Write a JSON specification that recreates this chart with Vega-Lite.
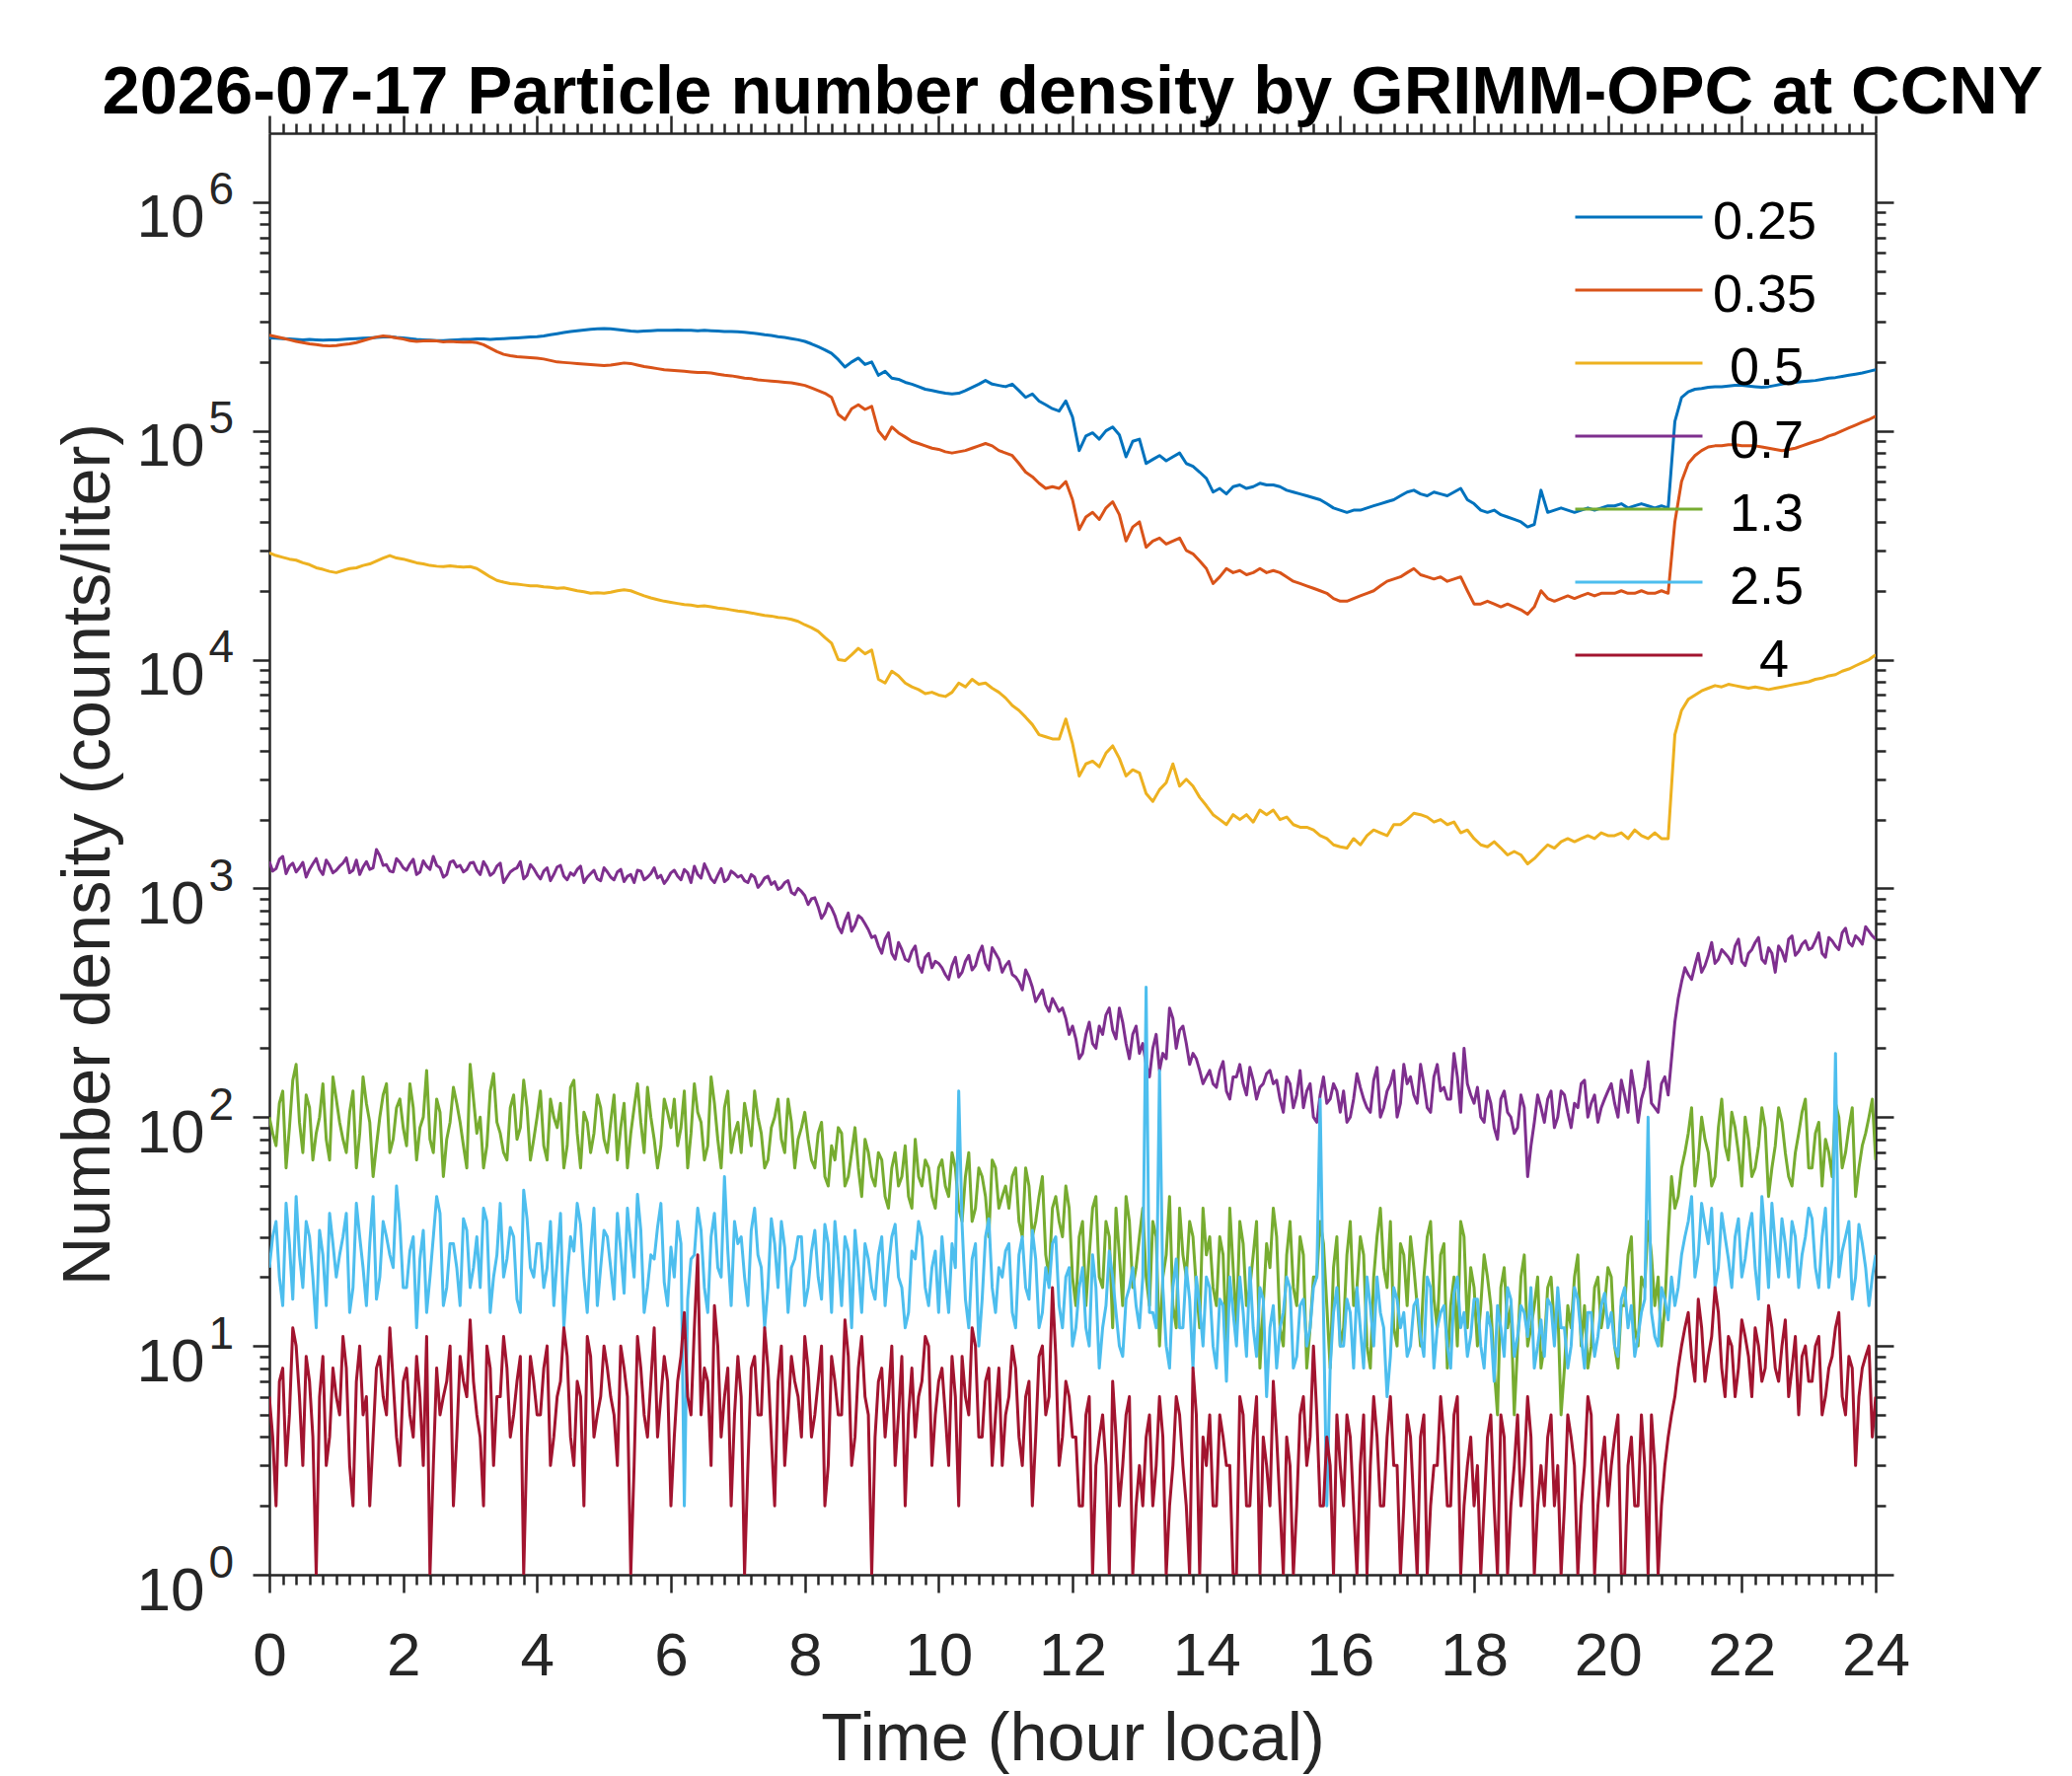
{
"$schema": "https://vega.github.io/schema/vega-lite/v6.json",
"width": 1628, "height": 1461,
"autosize": {"type": "none"},
"padding": {"left": 273, "top": 135, "right": 199, "bottom": 204},
"background": "white",
"title": {"text": "2026-07-17 Particle number density by GRIMM-OPC at CCNY", "font": "Liberation Sans", "fontSize": 68.6, "fontWeight": "bold", "color": "#000000", "anchor": "middle", "frame": "group", "baseline": "alphabetic", "offset": -68},
"config": {"view": {"stroke": null},
 "axis": {"labelFont": "Liberation Sans", "titleFont": "Liberation Sans", "labelColor": "#262626", "titleColor": "#262626", "tickColor": "#262626", "domainColor": "#262626", "tickWidth": 2.5, "domainWidth": 2.5, "grid": false, "labelFlush": false, "labelOverlap": false, "titleFontWeight": "normal"}},
"datasets": {
"smooth": [
{"t":0,"a":255000,"b":262000,"c":29300},{"t":0.1,"a":254000,"b":258000,"c":28500},{"t":0.2,"a":253000,"b":254000,"c":28000},{"t":0.3,"a":252000,"b":250000,"c":27500},{"t":0.4,"a":251000,"b":246000,"c":27200},{"t":0.5,"a":250000,"b":243000,"c":26500},{"t":0.6,"a":251000,"b":240000,"c":26000},{"t":0.7,"a":250000,"b":238000,"c":25200},{"t":0.8,"a":249000,"b":236000,"c":24800},{"t":0.9,"a":250000,"b":235000,"c":24300},
{"t":1,"a":250000,"b":236000,"c":24000},{"t":1.1,"a":251000,"b":238000,"c":24500},{"t":1.2,"a":252000,"b":240000,"c":25000},{"t":1.3,"a":253000,"b":243000,"c":25200},{"t":1.4,"a":254000,"b":248000,"c":25800},{"t":1.5,"a":255000,"b":253000,"c":26200},{"t":1.6,"a":256000,"b":257000,"c":27000},{"t":1.7,"a":257000,"b":260000,"c":27800},{"t":1.8,"a":258000,"b":258000,"c":28500},{"t":1.9,"a":256000,"b":255000,"c":27800},
{"t":2,"a":255000,"b":252000,"c":27500},{"t":2.1,"a":253000,"b":248000,"c":27000},{"t":2.2,"a":251000,"b":246000,"c":26500},{"t":2.3,"a":250000,"b":247000,"c":26200},{"t":2.4,"a":249000,"b":248000,"c":25800},{"t":2.5,"a":248000,"b":247000,"c":25600},{"t":2.6,"a":248000,"b":245000,"c":25500},{"t":2.7,"a":249000,"b":246000,"c":25700},{"t":2.8,"a":250000,"b":245000,"c":25500},{"t":2.9,"a":251000,"b":244000,"c":25400},
{"t":3,"a":251000,"b":245000,"c":25500},{"t":3.1,"a":252000,"b":243000,"c":25000},{"t":3.2,"a":252000,"b":238000,"c":24000},{"t":3.3,"a":251000,"b":230000,"c":23000},{"t":3.4,"a":252000,"b":222000,"c":22200},{"t":3.5,"a":253000,"b":216000,"c":21800},{"t":3.6,"a":254000,"b":213000,"c":21500},{"t":3.7,"a":255000,"b":211000,"c":21400},{"t":3.8,"a":256000,"b":210000,"c":21200},{"t":3.9,"a":257000,"b":209000,"c":21000},
{"t":4,"a":258000,"b":208000,"c":21000},{"t":4.1,"a":260000,"b":206000,"c":20800},{"t":4.2,"a":263000,"b":203000,"c":20700},{"t":4.3,"a":266000,"b":200000,"c":20500},{"t":4.4,"a":269000,"b":199000,"c":20600},{"t":4.5,"a":272000,"b":198000,"c":20300},{"t":4.6,"a":274000,"b":197000,"c":20000},{"t":4.7,"a":276000,"b":196000,"c":19800},{"t":4.8,"a":278000,"b":195000,"c":19500},{"t":4.9,"a":279000,"b":194000,"c":19600},
{"t":5,"a":280000,"b":193000,"c":19500},{"t":5.1,"a":279000,"b":194000,"c":19700},{"t":5.2,"a":277000,"b":196000,"c":20000},{"t":5.3,"a":275000,"b":198000,"c":20200},{"t":5.4,"a":273000,"b":197000,"c":20000},{"t":5.5,"a":272000,"b":194000,"c":19500},{"t":5.6,"a":273000,"b":191000,"c":19000},{"t":5.7,"a":274000,"b":189000,"c":18600},{"t":5.8,"a":275000,"b":187000,"c":18300},{"t":5.9,"a":275000,"b":185000,"c":18000},
{"t":6,"a":275000,"b":184000,"c":17800},{"t":6.1,"a":276000,"b":183000,"c":17600},{"t":6.2,"a":275000,"b":182000,"c":17400},{"t":6.3,"a":275000,"b":181000,"c":17300},{"t":6.4,"a":274000,"b":180000,"c":17100},{"t":6.5,"a":275000,"b":180000,"c":17200},{"t":6.6,"a":274000,"b":179000,"c":17000},{"t":6.7,"a":273000,"b":177000,"c":16800},{"t":6.8,"a":272000,"b":175000,"c":16700},{"t":6.9,"a":272000,"b":174000,"c":16500},
{"t":7,"a":271000,"b":172000,"c":16300},{"t":7.1,"a":270000,"b":170000,"c":16200},{"t":7.2,"a":268000,"b":169000,"c":16000},{"t":7.3,"a":266000,"b":167000,"c":15800},{"t":7.4,"a":263000,"b":166000,"c":15600},{"t":7.5,"a":261000,"b":165000,"c":15500},{"t":7.6,"a":258000,"b":164000,"c":15300},{"t":7.7,"a":256000,"b":163000,"c":15200},{"t":7.8,"a":253000,"b":162000,"c":15000},{"t":7.9,"a":250000,"b":160000,"c":14700},
{"t":8,"a":246000,"b":158000,"c":14200},{"t":8.1,"a":240000,"b":154000,"c":13800},{"t":8.2,"a":233000,"b":150000,"c":13300},{"t":8.3,"a":226000,"b":146000,"c":12500},{"t":8.4,"a":218000,"b":140000,"c":11800},{"t":8.5,"a":205000,"b":118000,"c":10000},{"t":8.6,"a":190000,"b":112000,"c":9900},{"t":8.7,"a":200000,"b":125000,"c":10500},{"t":8.8,"a":208000,"b":130000,"c":11200},{"t":8.9,"a":195000,"b":124000,"c":10600},
{"t":9,"a":200000,"b":128000,"c":11000},{"t":9.1,"a":175000,"b":100000,"c":8200},{"t":9.2,"a":182000,"b":92000,"c":7900},{"t":9.3,"a":170000,"b":104000,"c":8900},{"t":9.4,"a":168000,"b":98000,"c":8500},{"t":9.5,"a":163000,"b":94000,"c":7900},{"t":9.6,"a":160000,"b":90000,"c":7600},{"t":9.7,"a":156000,"b":88000,"c":7400},{"t":9.8,"a":152000,"b":86000,"c":7100},{"t":9.9,"a":150000,"b":84000,"c":7200},
{"t":10,"a":148000,"b":83000,"c":7000},{"t":10.1,"a":146000,"b":81000,"c":6900},{"t":10.2,"a":145000,"b":80000,"c":7200},{"t":10.3,"a":146000,"b":81000,"c":7900},{"t":10.4,"a":150000,"b":82000,"c":7600},{"t":10.5,"a":155000,"b":84000,"c":8200},{"t":10.6,"a":160000,"b":86000,"c":7800},{"t":10.7,"a":166000,"b":88000,"c":7900},{"t":10.8,"a":160000,"b":86000,"c":7500},{"t":10.9,"a":158000,"b":82000,"c":7200},
{"t":11,"a":156000,"b":80000,"c":6800},{"t":11.1,"a":160000,"b":78000,"c":6300},{"t":11.2,"a":150000,"b":72000,"c":6000},{"t":11.3,"a":140000,"b":66000,"c":5600},{"t":11.4,"a":145000,"b":63000,"c":5200},{"t":11.5,"a":135000,"b":59000,"c":4700},{"t":11.6,"a":130000,"b":56000,"c":4600},{"t":11.7,"a":125000,"b":57000,"c":4500},{"t":11.8,"a":122000,"b":56000,"c":4500},{"t":11.9,"a":135000,"b":60000,"c":5500},
{"t":12,"a":115000,"b":50000,"c":4300},{"t":12.1,"a":82000,"b":37000,"c":3100},{"t":12.2,"a":95000,"b":42000,"c":3500},{"t":12.3,"a":98000,"b":44000,"c":3600},{"t":12.4,"a":92000,"b":41000,"c":3400},{"t":12.5,"a":100000,"b":46000,"c":3900},{"t":12.6,"a":104000,"b":49000,"c":4200},{"t":12.7,"a":96000,"b":43000,"c":3700},{"t":12.8,"a":77000,"b":33000,"c":3100},{"t":12.9,"a":90000,"b":38000,"c":3300},
{"t":13,"a":92000,"b":40000,"c":3200},{"t":13.1,"a":72000,"b":31000,"c":2600},{"t":13.2,"a":75000,"b":33000,"c":2400},{"t":13.3,"a":78000,"b":34000,"c":2700},{"t":13.4,"a":74000,"b":32000,"c":2900},{"t":13.5,"a":77000,"b":33000,"c":3500},{"t":13.6,"a":80000,"b":34000,"c":2800},{"t":13.7,"a":72000,"b":30000,"c":3000},{"t":13.8,"a":70000,"b":29000,"c":2800},{"t":13.9,"a":66000,"b":27000,"c":2500},
{"t":14,"a":62000,"b":25000,"c":2300},{"t":14.1,"a":54000,"b":21500,"c":2100},{"t":14.2,"a":56000,"b":23000,"c":2000},{"t":14.3,"a":53000,"b":25000,"c":1900},{"t":14.4,"a":57000,"b":24000,"c":2100},{"t":14.5,"a":58000,"b":24500,"c":2000},{"t":14.6,"a":56000,"b":23500,"c":2100},{"t":14.7,"a":57000,"b":24000,"c":1950},{"t":14.8,"a":59000,"b":25000,"c":2200},{"t":14.9,"a":58000,"b":24000,"c":2100},
{"t":15,"a":58000,"b":24500,"c":2200},{"t":15.1,"a":57000,"b":24000,"c":2000},{"t":15.2,"a":55000,"b":23000,"c":2050},{"t":15.3,"a":54000,"b":22000,"c":1900},{"t":15.4,"a":53000,"b":21500,"c":1850},{"t":15.5,"a":52000,"b":21000,"c":1850},{"t":15.6,"a":51000,"b":20500,"c":1800},{"t":15.7,"a":50000,"b":20000,"c":1700},{"t":15.8,"a":48000,"b":19500,"c":1650},{"t":15.9,"a":46000,"b":18500,"c":1550},
{"t":16,"a":45000,"b":18000,"c":1520},{"t":16.1,"a":44000,"b":18000,"c":1500},{"t":16.2,"a":45000,"b":18500,"c":1650},{"t":16.3,"a":45000,"b":19000,"c":1550},{"t":16.4,"a":46000,"b":19500,"c":1700},{"t":16.5,"a":47000,"b":20000,"c":1800},{"t":16.6,"a":48000,"b":21000,"c":1750},{"t":16.7,"a":49000,"b":22000,"c":1700},{"t":16.8,"a":50000,"b":22500,"c":1900},{"t":16.9,"a":52000,"b":23000,"c":1900},
{"t":17,"a":54000,"b":24000,"c":2000},{"t":17.1,"a":55000,"b":25000,"c":2130},{"t":17.2,"a":53000,"b":23500,"c":2100},{"t":17.3,"a":52000,"b":23000,"c":2050},{"t":17.4,"a":54000,"b":22500,"c":1950},{"t":17.5,"a":53000,"b":23000,"c":2000},{"t":17.6,"a":52000,"b":22000,"c":1900},{"t":17.7,"a":54000,"b":22500,"c":1950},{"t":17.8,"a":56000,"b":23000,"c":1750},{"t":17.9,"a":50000,"b":20000,"c":1800},
{"t":18,"a":48000,"b":17500,"c":1650},{"t":18.1,"a":45000,"b":17500,"c":1550},{"t":18.2,"a":44000,"b":18000,"c":1520},{"t":18.3,"a":45000,"b":17500,"c":1600},{"t":18.4,"a":43000,"b":17000,"c":1500},{"t":18.5,"a":42000,"b":17500,"c":1400},{"t":18.6,"a":41000,"b":17000,"c":1450},{"t":18.7,"a":40000,"b":16500,"c":1400},{"t":18.8,"a":38000,"b":15800,"c":1280},{"t":18.9,"a":39000,"b":17000,"c":1350},
{"t":19,"a":55000,"b":20000,"c":1450},{"t":19.1,"a":44000,"b":18500,"c":1550},{"t":19.2,"a":45000,"b":18000,"c":1500},{"t":19.3,"a":46000,"b":18500,"c":1600},{"t":19.4,"a":45000,"b":19000,"c":1650},{"t":19.5,"a":44000,"b":18500,"c":1600},{"t":19.6,"a":45000,"b":19000,"c":1650},{"t":19.7,"a":46000,"b":19500,"c":1700},{"t":19.8,"a":45000,"b":19000,"c":1650},{"t":19.9,"a":46000,"b":19500,"c":1750},
{"t":20,"a":47000,"b":19500,"c":1700},{"t":20.1,"a":47000,"b":19500,"c":1700},{"t":20.2,"a":48000,"b":20000,"c":1750},{"t":20.3,"a":46000,"b":19500,"c":1650},{"t":20.4,"a":47000,"b":19500,"c":1800},{"t":20.5,"a":48000,"b":20000,"c":1700},{"t":20.6,"a":47000,"b":19500,"c":1650},{"t":20.7,"a":46000,"b":19500,"c":1750},{"t":20.8,"a":47000,"b":20000,"c":1650},{"t":20.9,"a":46000,"b":19500,"c":1650},
{"t":21,"a":110000,"b":40000,"c":4700},{"t":21.1,"a":140000,"b":60000,"c":6000},{"t":21.2,"a":148000,"b":72000,"c":6700},{"t":21.3,"a":152000,"b":78000,"c":7000},{"t":21.4,"a":153000,"b":82000,"c":7300},{"t":21.5,"a":155000,"b":85000,"c":7500},{"t":21.6,"a":156000,"b":86000,"c":7700},{"t":21.7,"a":156000,"b":86000,"c":7600},{"t":21.8,"a":157000,"b":87000,"c":7800},{"t":21.9,"a":158000,"b":87000,"c":7700},
{"t":22,"a":158000,"b":86000,"c":7600},{"t":22.1,"a":157000,"b":86000,"c":7500},{"t":22.2,"a":156000,"b":86000,"c":7600},{"t":22.3,"a":155000,"b":85000,"c":7500},{"t":22.4,"a":156000,"b":84000,"c":7400},{"t":22.5,"a":158000,"b":83000,"c":7500},{"t":22.6,"a":160000,"b":82000,"c":7600},{"t":22.7,"a":162000,"b":83000,"c":7700},{"t":22.8,"a":163000,"b":84000,"c":7800},{"t":22.9,"a":164000,"b":86000,"c":7900},
{"t":23,"a":165000,"b":88000,"c":8000},{"t":23.1,"a":166000,"b":90000,"c":8200},{"t":23.2,"a":168000,"b":92000,"c":8300},{"t":23.3,"a":170000,"b":95000,"c":8500},{"t":23.4,"a":171000,"b":97000,"c":8600},{"t":23.5,"a":173000,"b":100000,"c":8900},{"t":23.6,"a":175000,"b":103000,"c":9100},{"t":23.7,"a":177000,"b":106000,"c":9400},{"t":23.8,"a":179000,"b":109000,"c":9700},{"t":23.9,"a":182000,"b":112000,"c":10000},
{"t":24,"a":185000,"b":116000,"c":10500}
],
"noisy": [
{"t":0,"d":1310,"e":100,"f":22,"g":6},{"t":0.05,"d":1190,"e":85,"f":30,"g":4},{"t":0.1,"d":1220,"e":75,"f":35,"g":2},{"t":0.15,"d":1340,"e":115,"f":20,"g":7},{"t":0.2,"d":1380,"e":130,"f":15,"g":8},{"t":0.25,"d":1160,"e":60,"f":42,"g":3},{"t":0.3,"d":1250,"e":90,"f":28,"g":5},{"t":0.35,"d":1290,"e":145,"f":16,"g":12},{"t":0.4,"d":1180,"e":170,"f":45,"g":10},{"t":0.45,"d":1230,"e":95,"f":25,"g":6},
{"t":0.5,"d":1300,"e":70,"f":18,"g":3},{"t":0.55,"d":1120,"e":125,"f":35,"g":9},{"t":0.6,"d":1210,"e":110,"f":30,"g":7},{"t":0.65,"d":1280,"e":65,"f":20,"g":4},{"t":0.7,"d":1350,"e":85,"f":12,"g":1},{"t":0.75,"d":1210,"e":100,"f":32,"g":6},{"t":0.8,"d":1150,"e":140,"f":25,"g":9},{"t":0.85,"d":1330,"e":80,"f":15,"g":3},{"t":0.9,"d":1260,"e":65,"f":38,"g":4},{"t":0.95,"d":1170,"e":150,"f":28,"g":8},
{"t":1,"d":1200,"e":120,"f":20,"g":6},{"t":1.05,"d":1250,"e":95,"f":25,"g":5},{"t":1.1,"d":1290,"e":80,"f":30,"g":11},{"t":1.15,"d":1360,"e":70,"f":38,"g":8},{"t":1.2,"d":1170,"e":105,"f":14,"g":3},{"t":1.25,"d":1200,"e":130,"f":18,"g":2},{"t":1.3,"d":1330,"e":60,"f":42,"g":7},{"t":1.35,"d":1150,"e":85,"f":30,"g":10},{"t":1.4,"d":1240,"e":150,"f":22,"g":5},{"t":1.45,"d":1310,"e":115,"f":15,"g":6},
{"t":1.5,"d":1210,"e":95,"f":28,"g":2},{"t":1.55,"d":1230,"e":55,"f":45,"g":4},{"t":1.6,"d":1480,"e":75,"f":16,"g":8},{"t":1.65,"d":1390,"e":100,"f":20,"g":9},{"t":1.7,"d":1260,"e":125,"f":35,"g":6},{"t":1.75,"d":1270,"e":140,"f":30,"g":5},{"t":1.8,"d":1190,"e":70,"f":25,"g":12},{"t":1.85,"d":1180,"e":80,"f":22,"g":7},{"t":1.9,"d":1350,"e":110,"f":50,"g":4},{"t":1.95,"d":1300,"e":120,"f":34,"g":3},
{"t":2,"d":1230,"e":90,"f":18,"g":7},{"t":2.05,"d":1200,"e":75,"f":18,"g":8},{"t":2.1,"d":1280,"e":140,"f":26,"g":5},{"t":2.15,"d":1340,"e":110,"f":30,"g":4},{"t":2.2,"d":1150,"e":65,"f":12,"g":9},{"t":2.25,"d":1180,"e":90,"f":24,"g":6},{"t":2.3,"d":1320,"e":100,"f":32,"g":3},{"t":2.35,"d":1250,"e":160,"f":14,"g":11},{"t":2.4,"d":1210,"e":80,"f":20,"g":1},{"t":2.45,"d":1380,"e":70,"f":30,"g":3},
{"t":2.5,"d":1260,"e":120,"f":45,"g":8},{"t":2.55,"d":1230,"e":105,"f":38,"g":5},{"t":2.6,"d":1120,"e":55,"f":15,"g":6},{"t":2.65,"d":1150,"e":80,"f":18,"g":7},{"t":2.7,"d":1300,"e":95,"f":28,"g":10},{"t":2.75,"d":1320,"e":135,"f":28,"g":2},{"t":2.8,"d":1240,"e":115,"f":22,"g":4},{"t":2.85,"d":1260,"e":95,"f":15,"g":9},{"t":2.9,"d":1180,"e":75,"f":36,"g":7},{"t":2.95,"d":1210,"e":60,"f":32,"g":6},
{"t":3,"d":1290,"e":170,"f":18,"g":13},{"t":3.05,"d":1300,"e":120,"f":22,"g":7},{"t":3.1,"d":1200,"e":85,"f":30,"g":5},{"t":3.15,"d":1150,"e":100,"f":18,"g":4},{"t":3.2,"d":1310,"e":60,"f":40,"g":2},{"t":3.25,"d":1240,"e":75,"f":35,"g":10},{"t":3.3,"d":1140,"e":130,"f":14,"g":8},{"t":3.35,"d":1170,"e":155,"f":20,"g":3},{"t":3.4,"d":1250,"e":95,"f":25,"g":6},{"t":3.45,"d":1290,"e":85,"f":42,"g":6},
{"t":3.5,"d":1060,"e":70,"f":20,"g":11},{"t":3.55,"d":1120,"e":65,"f":24,"g":8},{"t":3.6,"d":1180,"e":110,"f":33,"g":4},{"t":3.65,"d":1210,"e":125,"f":30,"g":5},{"t":3.7,"d":1230,"e":80,"f":16,"g":7},{"t":3.75,"d":1310,"e":90,"f":14,"g":9},{"t":3.8,"d":1100,"e":145,"f":48,"g":1},{"t":3.85,"d":1140,"e":110,"f":36,"g":4},{"t":3.9,"d":1270,"e":65,"f":22,"g":9},{"t":3.95,"d":1220,"e":80,"f":20,"g":7},
{"t":4,"d":1150,"e":100,"f":28,"g":5},{"t":4.05,"d":1100,"e":130,"f":28,"g":5},{"t":4.1,"d":1190,"e":75,"f":18,"g":8},{"t":4.15,"d":1230,"e":65,"f":22,"g":10},{"t":4.2,"d":1080,"e":120,"f":35,"g":3},{"t":4.25,"d":1150,"e":100,"f":15,"g":4},{"t":4.3,"d":1240,"e":90,"f":24,"g":6},{"t":4.35,"d":1260,"e":115,"f":38,"g":7},{"t":4.4,"d":1130,"e":60,"f":12,"g":12},{"t":4.45,"d":1090,"e":75,"f":20,"g":9},
{"t":4.5,"d":1170,"e":135,"f":30,"g":4},{"t":4.55,"d":1140,"e":145,"f":26,"g":3},{"t":4.6,"d":1210,"e":85,"f":42,"g":7},{"t":4.65,"d":1250,"e":60,"f":34,"g":6},{"t":4.7,"d":1060,"e":105,"f":20,"g":2},{"t":4.75,"d":1120,"e":95,"f":14,"g":11},{"t":4.8,"d":1160,"e":70,"f":26,"g":9},{"t":4.85,"d":1200,"e":85,"f":40,"g":4},{"t":4.9,"d":1100,"e":125,"f":15,"g":5},{"t":4.95,"d":1080,"e":110,"f":22,"g":6},
{"t":5,"d":1230,"e":80,"f":32,"g":10},{"t":5.05,"d":1180,"e":70,"f":30,"g":8},{"t":5.1,"d":1120,"e":95,"f":22,"g":6},{"t":5.15,"d":1090,"e":125,"f":16,"g":5},{"t":5.2,"d":1180,"e":65,"f":38,"g":3},{"t":5.25,"d":1210,"e":90,"f":26,"g":10},{"t":5.3,"d":1070,"e":115,"f":17,"g":8},{"t":5.35,"d":1130,"e":60,"f":40,"g":6},{"t":5.4,"d":1150,"e":85,"f":28,"g":1},{"t":5.45,"d":1060,"e":110,"f":20,"g":3},
{"t":5.5,"d":1200,"e":140,"f":46,"g":11},{"t":5.55,"d":1190,"e":95,"f":32,"g":8},{"t":5.6,"d":1090,"e":70,"f":14,"g":5},{"t":5.65,"d":1120,"e":135,"f":18,"g":4},{"t":5.7,"d":1160,"e":100,"f":25,"g":7},{"t":5.75,"d":1230,"e":80,"f":24,"g":12},{"t":5.8,"d":1110,"e":60,"f":33,"g":4},{"t":5.85,"d":1140,"e":75,"f":42,"g":6},{"t":5.9,"d":1050,"e":120,"f":19,"g":9},{"t":5.95,"d":1100,"e":105,"f":15,"g":7},
{"t":6,"d":1170,"e":90,"f":27,"g":2},{"t":6.05,"d":1200,"e":120,"f":20,"g":4},{"t":6.1,"d":1130,"e":75,"f":35,"g":7},{"t":6.15,"d":1090,"e":90,"f":28,"g":9},{"t":6.2,"d":1210,"e":130,"f":2,"g":14},{"t":6.25,"d":1170,"e":60,"f":16,"g":6},{"t":6.3,"d":1060,"e":85,"f":24,"g":5},{"t":6.35,"d":1250,"e":140,"f":25,"g":12},{"t":6.4,"d":1150,"e":105,"f":40,"g":25},{"t":6.45,"d":1110,"e":95,"f":32,"g":5},
{"t":6.5,"d":1280,"e":65,"f":18,"g":8},{"t":6.55,"d":1190,"e":75,"f":14,"g":7},{"t":6.6,"d":1100,"e":150,"f":30,"g":3},{"t":6.65,"d":1060,"e":115,"f":38,"g":15},{"t":6.7,"d":1140,"e":80,"f":22,"g":10},{"t":6.75,"d":1220,"e":60,"f":20,"g":4},{"t":6.8,"d":1070,"e":110,"f":55,"g":6},{"t":6.85,"d":1100,"e":130,"f":26,"g":8},{"t":6.9,"d":1190,"e":70,"f":15,"g":2},{"t":6.95,"d":1160,"e":85,"f":35,"g":5},
{"t":7,"d":1120,"e":95,"f":28,"g":9},{"t":7.05,"d":1140,"e":70,"f":30,"g":6},{"t":7.1,"d":1080,"e":115,"f":20,"g":1},{"t":7.15,"d":1060,"e":95,"f":15,"g":3},{"t":7.2,"d":1150,"e":75,"f":32,"g":8},{"t":7.25,"d":1120,"e":130,"f":40,"g":9},{"t":7.3,"d":1010,"e":100,"f":25,"g":5},{"t":7.35,"d":1050,"e":85,"f":22,"g":5},{"t":7.4,"d":1110,"e":60,"f":12,"g":12},{"t":7.45,"d":1130,"e":65,"f":18,"g":8},
{"t":7.5,"d":1040,"e":90,"f":36,"g":4},{"t":7.55,"d":1070,"e":100,"f":28,"g":2},{"t":7.6,"d":990,"e":120,"f":18,"g":7},{"t":7.65,"d":1010,"e":80,"f":35,"g":10},{"t":7.7,"d":1060,"e":70,"f":27,"g":3},{"t":7.75,"d":1080,"e":120,"f":14,"g":5},{"t":7.8,"d":960,"e":95,"f":22,"g":9},{"t":7.85,"d":940,"e":60,"f":24,"g":7},{"t":7.9,"d":1000,"e":80,"f":30,"g":6},{"t":7.95,"d":970,"e":90,"f":30,"g":4},
{"t":8,"d":930,"e":105,"f":15,"g":11},{"t":8.05,"d":850,"e":80,"f":18,"g":8},{"t":8.1,"d":900,"e":65,"f":26,"g":4},{"t":8.15,"d":910,"e":60,"f":32,"g":5},{"t":8.2,"d":830,"e":85,"f":20,"g":7},{"t":8.25,"d":740,"e":95,"f":16,"g":10},{"t":8.3,"d":780,"e":55,"f":34,"g":2},{"t":8.35,"d":860,"e":50,"f":28,"g":3},{"t":8.4,"d":820,"e":75,"f":14,"g":9},{"t":8.45,"d":760,"e":65,"f":35,"g":7},
{"t":8.5,"d":680,"e":90,"f":24,"g":5},{"t":8.55,"d":640,"e":85,"f":15,"g":5},{"t":8.6,"d":720,"e":50,"f":30,"g":13},{"t":8.65,"d":780,"e":55,"f":26,"g":9},{"t":8.7,"d":650,"e":70,"f":12,"g":3},{"t":8.75,"d":690,"e":90,"f":32,"g":4},{"t":8.8,"d":760,"e":60,"f":22,"g":8},{"t":8.85,"d":740,"e":45,"f":14,"g":11},{"t":8.9,"d":700,"e":80,"f":28,"g":6},{"t":8.95,"d":660,"e":70,"f":24,"g":5},
{"t":9,"d":610,"e":55,"f":18,"g":1},{"t":9.05,"d":620,"e":50,"f":16,"g":4},{"t":9.1,"d":560,"e":70,"f":25,"g":7},{"t":9.15,"d":520,"e":65,"f":30,"g":8},{"t":9.2,"d":600,"e":45,"f":15,"g":4},{"t":9.25,"d":640,"e":40,"f":22,"g":6},{"t":9.3,"d":520,"e":60,"f":30,"g":10},{"t":9.35,"d":490,"e":70,"f":34,"g":3},{"t":9.4,"d":580,"e":50,"f":20,"g":5},{"t":9.45,"d":540,"e":55,"f":18,"g":9},
{"t":9.5,"d":490,"e":75,"f":12,"g":2},{"t":9.55,"d":480,"e":45,"f":14,"g":5},{"t":9.6,"d":530,"e":40,"f":26,"g":8},{"t":9.65,"d":560,"e":80,"f":24,"g":4},{"t":9.7,"d":460,"e":55,"f":35,"g":6},{"t":9.75,"d":430,"e":50,"f":30,"g":7},{"t":9.8,"d":500,"e":65,"f":18,"g":11},{"t":9.85,"d":520,"e":60,"f":15,"g":10},{"t":9.9,"d":450,"e":45,"f":22,"g":3},{"t":9.95,"d":480,"e":40,"f":26,"g":5},
{"t":10,"d":470,"e":60,"f":14,"g":7},{"t":10.05,"d":450,"e":65,"f":30,"g":8},{"t":10.1,"d":420,"e":50,"f":20,"g":5},{"t":10.15,"d":400,"e":45,"f":14,"g":3},{"t":10.2,"d":460,"e":70,"f":28,"g":9},{"t":10.25,"d":500,"e":60,"f":22,"g":6},{"t":10.3,"d":410,"e":40,"f":130,"g":2},{"t":10.35,"d":430,"e":35,"f":34,"g":9},{"t":10.4,"d":480,"e":55,"f":16,"g":6},{"t":10.45,"d":510,"e":70,"f":12,"g":5},
{"t":10.5,"d":440,"e":35,"f":24,"g":12},{"t":10.55,"d":460,"e":40,"f":28,"g":10},{"t":10.6,"d":520,"e":60,"f":10,"g":4},{"t":10.65,"d":560,"e":55,"f":16,"g":4},{"t":10.7,"d":470,"e":45,"f":30,"g":7},{"t":10.75,"d":440,"e":30,"f":36,"g":8},{"t":10.8,"d":550,"e":65,"f":18,"g":3},{"t":10.85,"d":520,"e":60,"f":14,"g":5},{"t":10.9,"d":490,"e":40,"f":22,"g":8},{"t":10.95,"d":430,"e":45,"f":20,"g":3},
{"t":11,"d":460,"e":50,"f":26,"g":5},{"t":11.05,"d":480,"e":40,"f":28,"g":6},{"t":11.1,"d":420,"e":55,"f":14,"g":10},{"t":11.15,"d":410,"e":60,"f":12,"g":8},{"t":11.2,"d":390,"e":35,"f":25,"g":4},{"t":11.25,"d":360,"e":30,"f":30,"g":3},{"t":11.3,"d":440,"e":60,"f":18,"g":6},{"t":11.35,"d":410,"e":50,"f":16,"g":7},{"t":11.4,"d":370,"e":30,"f":32,"g":2},{"t":11.45,"d":320,"e":35,"f":24,"g":4},
{"t":11.5,"d":340,"e":45,"f":12,"g":9},{"t":11.55,"d":360,"e":55,"f":14,"g":10},{"t":11.6,"d":310,"e":25,"f":22,"g":5},{"t":11.65,"d":290,"e":20,"f":18,"g":6},{"t":11.7,"d":330,"e":40,"f":28,"g":18},{"t":11.75,"d":310,"e":45,"f":30,"g":9},{"t":11.8,"d":290,"e":35,"f":15,"g":3},{"t":11.85,"d":300,"e":30,"f":12,"g":4},{"t":11.9,"d":270,"e":50,"f":20,"g":7},{"t":11.95,"d":230,"e":40,"f":22,"g":6},
{"t":12,"d":250,"e":20,"f":10,"g":4},{"t":12.05,"d":220,"e":15,"f":12,"g":4},{"t":12.1,"d":180,"e":30,"f":18,"g":2},{"t":12.15,"d":190,"e":35,"f":22,"g":2},{"t":12.2,"d":230,"e":15,"f":12,"g":5},{"t":12.25,"d":260,"e":25,"f":10,"g":6},{"t":12.3,"d":210,"e":40,"f":25,"g":1},{"t":12.35,"d":200,"e":45,"f":18,"g":3},{"t":12.4,"d":250,"e":20,"f":8,"g":4},{"t":12.45,"d":230,"e":18,"f":12,"g":5},
{"t":12.5,"d":280,"e":35,"f":15,"g":3},{"t":12.55,"d":300,"e":30,"f":26,"g":1},{"t":12.6,"d":240,"e":12,"f":20,"g":7},{"t":12.65,"d":220,"e":40,"f":14,"g":4},{"t":12.7,"d":300,"e":25,"f":10,"g":2},{"t":12.75,"d":260,"e":15,"f":9,"g":3},{"t":12.8,"d":210,"e":45,"f":16,"g":5},{"t":12.85,"d":180,"e":35,"f":18,"g":6},{"t":12.9,"d":230,"e":18,"f":22,"g":1},{"t":12.95,"d":250,"e":22,"f":15,"g":2},
{"t":13,"d":190,"e":30,"f":12,"g":3},{"t":13.05,"d":210,"e":40,"f":20,"g":2},{"t":13.1,"d":170,"e":20,"f":370,"g":4},{"t":13.15,"d":150,"e":15,"f":14,"g":5},{"t":13.2,"d":200,"e":35,"f":14,"g":2},{"t":13.25,"d":230,"e":30,"f":12,"g":3},{"t":13.3,"d":160,"e":10,"f":160,"g":6},{"t":13.35,"d":190,"e":20,"f":18,"g":4},{"t":13.4,"d":180,"e":25,"f":10,"g":1},{"t":13.45,"d":300,"e":45,"f":8,"g":2},
{"t":13.5,"d":270,"e":15,"f":18,"g":3},{"t":13.55,"d":200,"e":12,"f":24,"g":6},{"t":13.6,"d":240,"e":40,"f":12,"g":5},{"t":13.65,"d":250,"e":25,"f":12,"g":3},{"t":13.7,"d":210,"e":20,"f":22,"g":2},{"t":13.75,"d":170,"e":35,"f":16,"g":1},{"t":13.8,"d":190,"e":30,"f":8,"g":8},{"t":13.85,"d":180,"e":18,"f":20,"g":5},{"t":13.9,"d":160,"e":12,"f":15,"g":1},{"t":13.95,"d":140,"e":40,"f":10,"g":4},
{"t":14,"d":150,"e":25,"f":20,"g":3},{"t":14.05,"d":160,"e":30,"f":18,"g":5},{"t":14.1,"d":140,"e":18,"f":10,"g":2},{"t":14.15,"d":135,"e":15,"f":8,"g":2},{"t":14.2,"d":160,"e":30,"f":16,"g":5},{"t":14.25,"d":175,"e":25,"f":15,"g":4},{"t":14.3,"d":130,"e":10,"f":7,"g":3},{"t":14.35,"d":120,"e":40,"f":20,"g":3},{"t":14.4,"d":150,"e":22,"f":14,"g":1},{"t":14.45,"d":150,"e":12,"f":10,"g":1},
{"t":14.5,"d":170,"e":35,"f":20,"g":6},{"t":14.55,"d":140,"e":28,"f":14,"g":5},{"t":14.6,"d":125,"e":15,"f":9,"g":2},{"t":14.65,"d":165,"e":18,"f":22,"g":2},{"t":14.7,"d":145,"e":25,"f":12,"g":4},{"t":14.75,"d":120,"e":35,"f":9,"g":6},{"t":14.8,"d":135,"e":8,"f":18,"g":1},{"t":14.85,"d":140,"e":15,"f":16,"g":4},{"t":14.9,"d":155,"e":28,"f":6,"g":3},{"t":14.95,"d":160,"e":22,"f":12,"g":2},
{"t":15,"d":140,"e":40,"f":15,"g":7},{"t":15.05,"d":145,"e":30,"f":8,"g":4},{"t":15.1,"d":120,"e":12,"f":12,"g":2},{"t":15.15,"d":105,"e":10,"f":14,"g":1},{"t":15.2,"d":150,"e":25,"f":20,"g":4},{"t":15.25,"d":140,"e":35,"f":18,"g":3},{"t":15.3,"d":110,"e":18,"f":8,"g":1},{"t":15.35,"d":125,"e":15,"f":9,"g":2},{"t":15.4,"d":160,"e":30,"f":15,"g":5},{"t":15.45,"d":110,"e":25,"f":16,"g":6},
{"t":15.5,"d":130,"e":8,"f":10,"g":3},{"t":15.55,"d":140,"e":12,"f":12,"g":4},{"t":15.6,"d":100,"e":20,"f":18,"g":10},{"t":15.65,"d":95,"e":20,"f":20,"g":5},{"t":15.7,"d":125,"e":35,"f":120,"g":2},{"t":15.75,"d":150,"e":28,"f":14,"g":2},{"t":15.8,"d":115,"e":15,"f":2,"g":4},{"t":15.85,"d":120,"e":8,"f":8,"g":3},{"t":15.9,"d":140,"e":22,"f":14,"g":1},{"t":15.95,"d":130,"e":30,"f":18,"g":5},
{"t":16,"d":105,"e":10,"f":10,"g":3},{"t":16.05,"d":130,"e":12,"f":10,"g":2},{"t":16.1,"d":95,"e":25,"f":16,"g":5},{"t":16.15,"d":100,"e":35,"f":14,"g":4},{"t":16.2,"d":120,"e":15,"f":8,"g":2},{"t":16.25,"d":155,"e":18,"f":18,"g":1},{"t":16.3,"d":135,"e":30,"f":12,"g":3},{"t":16.35,"d":120,"e":25,"f":8,"g":5},{"t":16.4,"d":110,"e":10,"f":20,"g":1},{"t":16.45,"d":105,"e":8,"f":15,"g":3},
{"t":16.5,"d":145,"e":20,"f":10,"g":6},{"t":16.55,"d":165,"e":30,"f":20,"g":4},{"t":16.6,"d":100,"e":40,"f":14,"g":2},{"t":16.65,"d":110,"e":22,"f":12,"g":2},{"t":16.7,"d":130,"e":18,"f":6,"g":4},{"t":16.75,"d":140,"e":35,"f":9,"g":6},{"t":16.8,"d":160,"e":12,"f":18,"g":3},{"t":16.85,"d":100,"e":10,"f":16,"g":3},{"t":16.9,"d":115,"e":28,"f":12,"g":1},{"t":16.95,"d":170,"e":25,"f":14,"g":2},
{"t":17,"d":140,"e":15,"f":9,"g":5},{"t":17.05,"d":150,"e":30,"f":10,"g":4},{"t":17.1,"d":125,"e":22,"f":15,"g":2},{"t":17.15,"d":115,"e":15,"f":16,"g":1},{"t":17.2,"d":170,"e":10,"f":11,"g":4},{"t":17.25,"d":140,"e":20,"f":9,"g":5},{"t":17.3,"d":110,"e":30,"f":20,"g":1},{"t":17.35,"d":105,"e":35,"f":18,"g":2},{"t":17.4,"d":150,"e":16,"f":8,"g":3},{"t":17.45,"d":170,"e":12,"f":12,"g":3},
{"t":17.5,"d":130,"e":25,"f":14,"g":6},{"t":17.55,"d":135,"e":28,"f":15,"g":4},{"t":17.6,"d":120,"e":8,"f":10,"g":2},{"t":17.65,"d":120,"e":15,"f":8,"g":2},{"t":17.7,"d":190,"e":20,"f":17,"g":5},{"t":17.75,"d":150,"e":10,"f":20,"g":6},{"t":17.8,"d":105,"e":35,"f":12,"g":1},{"t":17.85,"d":200,"e":30,"f":14,"g":2},{"t":17.9,"d":140,"e":12,"f":9,"g":3},{"t":17.95,"d":125,"e":22,"f":11,"g":4},
{"t":18,"d":115,"e":18,"f":16,"g":2},{"t":18.05,"d":135,"e":10,"f":16,"g":3},{"t":18.1,"d":100,"e":15,"f":10,"g":1},{"t":18.15,"d":95,"e":25,"f":8,"g":2},{"t":18.2,"d":130,"e":20,"f":14,"g":4},{"t":18.25,"d":115,"e":15,"f":12,"g":5},{"t":18.3,"d":90,"e":8,"f":7,"g":2},{"t":18.35,"d":80,"e":5,"f":15,"g":1},{"t":18.4,"d":120,"e":18,"f":12,"g":5},{"t":18.45,"d":130,"e":22,"f":9,"g":4},
{"t":18.5,"d":105,"e":12,"f":18,"g":1},{"t":18.55,"d":100,"e":15,"f":16,"g":2},{"t":18.6,"d":85,"e":5,"f":9,"g":3},{"t":18.65,"d":90,"e":10,"f":11,"g":5},{"t":18.7,"d":125,"e":20,"f":15,"g":2},{"t":18.75,"d":110,"e":25,"f":14,"g":3},{"t":18.8,"d":55,"e":10,"f":11,"g":6},{"t":18.85,"d":75,"e":12,"f":18,"g":4},{"t":18.9,"d":95,"e":15,"f":8,"g":1},{"t":18.95,"d":125,"e":20,"f":10,"g":2},
{"t":19,"d":110,"e":8,"f":13,"g":3},{"t":19.05,"d":95,"e":10,"f":9,"g":2},{"t":19.1,"d":120,"e":18,"f":16,"g":4},{"t":19.15,"d":130,"e":20,"f":15,"g":5},{"t":19.2,"d":90,"e":12,"f":10,"g":2},{"t":19.25,"d":100,"e":15,"f":18,"g":3},{"t":19.3,"d":130,"e":5,"f":12,"g":1},{"t":19.35,"d":125,"e":8,"f":12,"g":2},{"t":19.4,"d":105,"e":15,"f":8,"g":5},{"t":19.45,"d":90,"e":12,"f":10,"g":4},
{"t":19.5,"d":115,"e":20,"f":18,"g":3},{"t":19.55,"d":110,"e":25,"f":16,"g":1},{"t":19.6,"d":140,"e":10,"f":11,"g":2},{"t":19.65,"d":145,"e":15,"f":8,"g":3},{"t":19.7,"d":100,"e":8,"f":14,"g":6},{"t":19.75,"d":115,"e":10,"f":14,"g":5},{"t":19.8,"d":125,"e":18,"f":9,"g":1},{"t":19.85,"d":95,"e":20,"f":11,"g":2},{"t":19.9,"d":110,"e":12,"f":15,"g":3},{"t":19.95,"d":120,"e":15,"f":17,"g":4},
{"t":20,"d":130,"e":22,"f":12,"g":2},{"t":20.05,"d":140,"e":20,"f":14,"g":3},{"t":20.1,"d":115,"e":10,"f":10,"g":4},{"t":20.15,"d":100,"e":8,"f":9,"g":5},{"t":20.2,"d":145,"e":15,"f":16,"g":1},{"t":20.25,"d":125,"e":15,"f":18,"g":1},{"t":20.3,"d":105,"e":25,"f":12,"g":3},{"t":20.35,"d":160,"e":30,"f":15,"g":4},{"t":20.4,"d":130,"e":12,"f":9,"g":2},{"t":20.45,"d":95,"e":10,"f":11,"g":2},
{"t":20.5,"d":120,"e":20,"f":14,"g":5},{"t":20.55,"d":135,"e":18,"f":16,"g":3},{"t":20.6,"d":175,"e":35,"f":100,"g":1},{"t":20.65,"d":115,"e":25,"f":14,"g":5},{"t":20.7,"d":110,"e":15,"f":11,"g":3},{"t":20.75,"d":105,"e":20,"f":10,"g":1},{"t":20.8,"d":140,"e":10,"f":18,"g":2},{"t":20.85,"d":150,"e":15,"f":16,"g":3},{"t":20.9,"d":125,"e":30,"f":13,"g":4},{"t":20.95,"d":180,"e":55,"f":20,"g":5},
{"t":21,"d":260,"e":40,"f":15,"g":6},{"t":21.05,"d":330,"e":45,"f":18,"g":8},{"t":21.1,"d":390,"e":60,"f":25,"g":10},{"t":21.15,"d":450,"e":70,"f":30,"g":12},{"t":21.2,"d":420,"e":85,"f":35,"g":14},{"t":21.25,"d":400,"e":110,"f":45,"g":9},{"t":21.3,"d":460,"e":50,"f":20,"g":7},{"t":21.35,"d":520,"e":65,"f":25,"g":16},{"t":21.4,"d":430,"e":100,"f":42,"g":12},{"t":21.45,"d":460,"e":80,"f":34,"g":7},
{"t":21.5,"d":510,"e":70,"f":28,"g":9},{"t":21.55,"d":580,"e":50,"f":40,"g":11},{"t":21.6,"d":470,"e":55,"f":18,"g":18},{"t":21.65,"d":490,"e":90,"f":22,"g":14},{"t":21.7,"d":540,"e":120,"f":38,"g":8},{"t":21.75,"d":520,"e":75,"f":30,"g":6},{"t":21.8,"d":500,"e":65,"f":24,"g":11},{"t":21.85,"d":470,"e":105,"f":18,"g":10},{"t":21.9,"d":560,"e":90,"f":30,"g":6},{"t":21.95,"d":600,"e":70,"f":36,"g":8},
{"t":22,"d":480,"e":50,"f":20,"g":13},{"t":22.05,"d":460,"e":100,"f":24,"g":11},{"t":22.1,"d":520,"e":80,"f":32,"g":9},{"t":22.15,"d":540,"e":55,"f":38,"g":6},{"t":22.2,"d":580,"e":60,"f":22,"g":12},{"t":22.25,"d":610,"e":75,"f":16,"g":10},{"t":22.3,"d":490,"e":110,"f":45,"g":7},{"t":22.35,"d":470,"e":90,"f":30,"g":8},{"t":22.4,"d":550,"e":45,"f":18,"g":15},{"t":22.45,"d":520,"e":60,"f":42,"g":12},
{"t":22.5,"d":430,"e":75,"f":28,"g":8},{"t":22.55,"d":560,"e":110,"f":20,"g":7},{"t":22.6,"d":530,"e":95,"f":36,"g":10},{"t":22.65,"d":480,"e":70,"f":28,"g":13},{"t":22.7,"d":600,"e":55,"f":20,"g":6},{"t":22.75,"d":620,"e":50,"f":35,"g":8},{"t":22.8,"d":510,"e":70,"f":30,"g":11},{"t":22.85,"d":530,"e":85,"f":18,"g":5},{"t":22.9,"d":570,"e":105,"f":25,"g":9},{"t":22.95,"d":590,"e":120,"f":30,"g":10},
{"t":23,"d":540,"e":60,"f":40,"g":7},{"t":23.05,"d":550,"e":60,"f":36,"g":7},{"t":23.1,"d":590,"e":85,"f":22,"g":10},{"t":23.15,"d":640,"e":95,"f":18,"g":11},{"t":23.2,"d":520,"e":50,"f":30,"g":5},{"t":23.25,"d":500,"e":80,"f":40,"g":6},{"t":23.3,"d":610,"e":70,"f":18,"g":8},{"t":23.35,"d":590,"e":55,"f":24,"g":9},{"t":23.4,"d":560,"e":115,"f":190,"g":12},{"t":23.45,"d":540,"e":100,"f":20,"g":14},
{"t":23.5,"d":640,"e":60,"f":26,"g":6},{"t":23.55,"d":670,"e":70,"f":30,"g":5},{"t":23.6,"d":580,"e":90,"f":35,"g":9},{"t":23.65,"d":560,"e":110,"f":16,"g":8},{"t":23.7,"d":620,"e":45,"f":20,"g":3},{"t":23.75,"d":600,"e":60,"f":34,"g":6},{"t":23.8,"d":570,"e":75,"f":28,"g":8},{"t":23.85,"d":680,"e":85,"f":22,"g":9},{"t":23.9,"d":650,"e":100,"f":15,"g":10},{"t":23.95,"d":620,"e":120,"f":20,"g":4},
{"t":24,"d":600,"e":65,"f":25,"g":6}
]
},
"resolve": {"axis": {"x": "independent", "y": "independent"}},
"layer": [
 {
  "data": {"name": "smooth"},
  "transform": [{"fold": ["a","b","c"], "as": ["size","density"]}],
  "mark": {"type": "line", "strokeWidth": 3, "clip": true, "strokeJoin": "round"},
  "encoding": {
   "x": {"field": "t", "type": "quantitative",
    "scale": {"domain": [0, 24], "nice": false, "zero": false},
    "axis": {"orient": "bottom", "title": "Time (hour local)", "titleFontSize": 68.4, "titlePadding": 20,
     "values": [0,0.2,0.4,0.6,0.8,1,1.2,1.4,1.6,1.8,2,2.2,2.4,2.6,2.8,3,3.2,3.4,3.6,3.8,4,4.2,4.4,4.6,4.8,5,5.2,5.4,5.6,5.8,6,6.2,6.4,6.6,6.8,7,7.2,7.4,7.6,7.8,8,8.2,8.4,8.6,8.8,9,9.2,9.4,9.6,9.8,10,10.2,10.4,10.6,10.8,11,11.2,11.4,11.6,11.8,12,12.2,12.4,12.6,12.8,13,13.2,13.4,13.6,13.8,14,14.2,14.4,14.6,14.8,15,15.2,15.4,15.6,15.8,16,16.2,16.4,16.6,16.8,17,17.2,17.4,17.6,17.8,18,18.2,18.4,18.6,18.8,19,19.2,19.4,19.6,19.8,20,20.2,20.4,20.6,20.8,21,21.2,21.4,21.6,21.8,22,22.2,22.4,22.6,22.8,23,23.2,23.4,23.6,23.8,24],
     "labelFontSize": 62, "labelPadding": 34,
     "labelExpr": "datum.value % 2 === 0 ? format(datum.value, 'd') : ''",
     "tickSize": {"condition": {"test": "datum.value % 2 === 0", "value": 18}, "value": 10}}},
   "y": {"field": "density", "type": "quantitative",
    "scale": {"type": "log", "domain": [1, 2000000], "nice": false},
    "axis": {"orient": "left", "title": "Number density (counts/liter)", "titleFontSize": 68.4, "titlePadding": 14,
     "values": [1,2,3,4,5,6,7,8,9,10,20,30,40,50,60,70,80,90,100,200,300,400,500,600,700,800,900,1000,2000,3000,4000,5000,6000,7000,8000,9000,10000,20000,30000,40000,50000,60000,70000,80000,90000,100000,200000,300000,400000,500000,600000,700000,800000,900000,1000000],
     "labelFontSize": 62, "labelPadding": 49, "labelOffset": 16, "labelAlign": "right", "labelBaseline": "middle",
     "labelExpr": "indexof([1,10,100,1000,10000,100000,1000000], datum.value) >= 0 ? '10' : ''",
     "tickSize": {"condition": {"test": "indexof([1,10,100,1000,10000,100000,1000000], datum.value) >= 0", "value": 17}, "value": 10}}},
   "color": {"field": "size", "type": "nominal",
    "scale": {"domain": ["a","b","c","d","e","f","g"], "range": ["#0072BD","#D95319","#EDB120","#7E2F8E","#77AC30","#4DBEEE","#A2142F"]},
    "legend": {"orient": "none", "legendX": 1322, "legendY": 55, "padding": 0, "title": null,
     "symbolType": "stroke", "symbolSize": 16641, "symbolStrokeWidth": 3, "clipHeight": 60, "rowPadding": 11,
     "labelFont": "Liberation Sans", "labelFontSize": 54, "labelColor": "#000000", "labelOffset": 9, "labelLimit": 0,
     "labelExpr": "['0.25','0.35','0.5','0.7','1.3','2.5','4'][indexof(['a','b','c','d','e','f','g'], datum.label)]",
     "encode": {"labels": {"update": {"dy": {"value": 6}, "dx": {"signal": "datum.value === 'g' ? 47 : (indexof(['c','d','e','f'], datum.value) >= 0 ? 17 : 0)"}}}}}}
  }
 },
 {
  "data": {"name": "noisy"},
  "transform": [{"fold": ["d","e","f","g"], "as": ["size","density"]}],
  "mark": {"type": "line", "strokeWidth": 3, "clip": true, "strokeJoin": "round"},
  "encoding": {
   "x": {"field": "t", "type": "quantitative", "scale": {"domain": [0, 24], "nice": false, "zero": false}, "axis": null},
   "y": {"field": "density", "type": "quantitative", "scale": {"type": "log", "domain": [1, 2000000], "nice": false}, "axis": null},
   "color": {"field": "size", "type": "nominal",
    "scale": {"domain": ["a","b","c","d","e","f","g"], "range": ["#0072BD","#D95319","#EDB120","#7E2F8E","#77AC30","#4DBEEE","#A2142F"]}}
  }
 },
 {
  "data": {"values": []},
  "mark": "point",
  "encoding": {
   "x": {"field": "t", "type": "quantitative",
    "scale": {"domain": [0, 24], "nice": false, "zero": false},
    "axis": {"orient": "top", "title": null, "labels": false,
     "values": [0,0.2,0.4,0.6,0.8,1,1.2,1.4,1.6,1.8,2,2.2,2.4,2.6,2.8,3,3.2,3.4,3.6,3.8,4,4.2,4.4,4.6,4.8,5,5.2,5.4,5.6,5.8,6,6.2,6.4,6.6,6.8,7,7.2,7.4,7.6,7.8,8,8.2,8.4,8.6,8.8,9,9.2,9.4,9.6,9.8,10,10.2,10.4,10.6,10.8,11,11.2,11.4,11.6,11.8,12,12.2,12.4,12.6,12.8,13,13.2,13.4,13.6,13.8,14,14.2,14.4,14.6,14.8,15,15.2,15.4,15.6,15.8,16,16.2,16.4,16.6,16.8,17,17.2,17.4,17.6,17.8,18,18.2,18.4,18.6,18.8,19,19.2,19.4,19.6,19.8,20,20.2,20.4,20.6,20.8,21,21.2,21.4,21.6,21.8,22,22.2,22.4,22.6,22.8,23,23.2,23.4,23.6,23.8,24],
     "tickSize": {"condition": {"test": "datum.value % 2 === 0", "value": 18}, "value": 10}}},
   "y": {"field": "density", "type": "quantitative",
    "scale": {"type": "log", "domain": [1, 2000000], "nice": false},
    "axis": {"orient": "right", "title": null, "labels": false,
     "values": [1,2,3,4,5,6,7,8,9,10,20,30,40,50,60,70,80,90,100,200,300,400,500,600,700,800,900,1000,2000,3000,4000,5000,6000,7000,8000,9000,10000,20000,30000,40000,50000,60000,70000,80000,90000,100000,200000,300000,400000,500000,600000,700000,800000,900000,1000000],
     "tickSize": {"condition": {"test": "indexof([1,10,100,1000,10000,100000,1000000], datum.value) >= 0", "value": 18}, "value": 10}}}
  }
 },
 {
  "data": {"values": []},
  "mark": "point",
  "encoding": {
   "y": {"field": "density", "type": "quantitative",
    "scale": {"type": "log", "domain": [1, 2000000], "nice": false},
    "axis": {"orient": "left", "title": null, "ticks": false, "tickSize": 0, "domain": false,
     "values": [1,10,100,1000,10000,100000,1000000],
     "labelFontSize": 46, "labelAlign": "left", "labelBaseline": "middle", "labelOffset": -12, "labelPadding": 62,
     "labelExpr": "'' + round(log(datum.value) / LN10)"}}
  }
 }
]
}
